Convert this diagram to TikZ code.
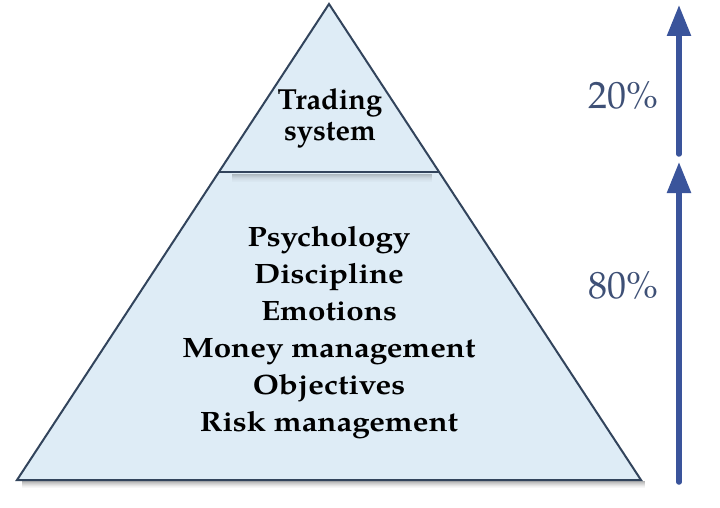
\documentclass[tikz,border=0pt]{standalone}
\usepackage{fontspec}
\setmainfont{TeX Gyre Pagella}
\usetikzlibrary{arrows.meta}
\definecolor{pyrfill}{RGB}{222,236,246}
\definecolor{pyrline}{RGB}{50,68,92}
\definecolor{arrowblue}{RGB}{58,84,155}
\definecolor{pcttext}{RGB}{62,80,118}
\tikzset{
  pyramid/.style={fill=pyrfill, draw=pyrline, line width=2pt, line join=miter},
  divider/.style={draw=pyrline, line width=2pt},
  toptext/.style={align=center, font=\fontsize{29}{31}\selectfont\bfseries, text=black, inner sep=0pt},
  bottext/.style={align=center, font=\fontsize{28}{37}\selectfont\bfseries, text=black, inner sep=0pt, xscale=1.12},
  pct/.style={font=\fontsize{38}{38}\selectfont, text=pcttext, inner sep=0pt},
  uparrow/.style={draw=arrowblue, line width=5.5pt, line cap=round, -{Triangle[length=31pt,width=23pt]}},
}
\begin{document}
\begin{tikzpicture}[x=1pt,y=-1pt]
\useasboundingbox (0,0) rectangle (720,508);
\fill[white] (0,0) rectangle (720,508);
\coordinate (apex) at (329,4);
\coordinate (bl) at (17,480);
\coordinate (br) at (641,480);
\coordinate (dl) at (219,172);
\coordinate (dr) at (440,172);
% base shadow
\foreach \i/\o in {1/0.30,2/0.25,3/0.2,4/0.15,5/0.1,6/0.06,7/0.03}
  \draw[black, opacity=\o, line width=1pt] (22,480+\i) -- (645,480+\i);
% pyramid
\path[pyramid] (apex) -- (bl) -- (br) -- cycle;
% divider shadow
\foreach \i/\o in {2/0.22,3/0.18,4/0.14,5/0.1,6/0.07,7/0.05,8/0.03,9/0.02}
  \draw[black, opacity=\o, line width=1pt] (232,172+\i) -- (432,172+\i);
\draw[divider] (dl) -- (dr);
% texts
\node[toptext, anchor=north] (ts) at (330,88) {Trading\\system};
\node[bottext, anchor=north] (bt) at (329,226) {Psychology\\Discipline\\Emotions\\Money management\\Objectives\\Risk management};
\node[pct] (p20) at (623,95) {20\%};
\node[pct] (p80) at (623,285) {80\%};
% arrows
\coordinate (a1s) at (679,154);
\coordinate (a1e) at (679,5);
\coordinate (a2s) at (679,482);
\coordinate (a2e) at (679,162);
\draw[uparrow] (a1s) -- (a1e);
\draw[uparrow] (a2s) -- (a2e);
\end{tikzpicture}
\end{document}
